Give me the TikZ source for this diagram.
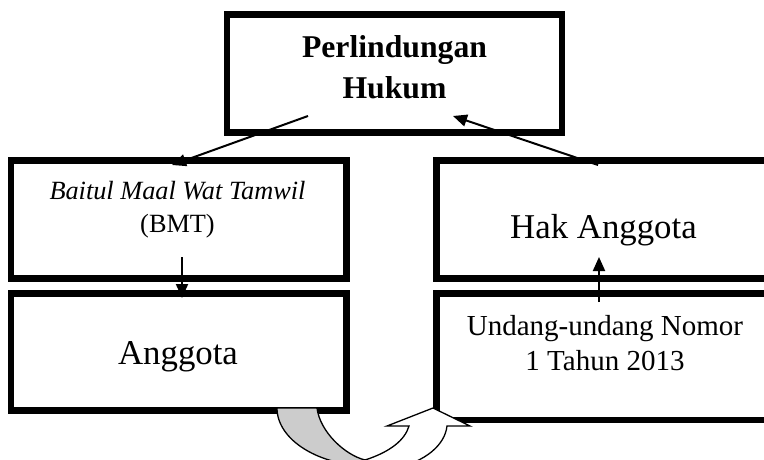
\documentclass[tikz,border=0pt]{standalone}
\usepackage{fontspec}
\setmainfont{Liberation Serif}
\usetikzlibrary{arrows.meta}
\definecolor{bandgrey}{RGB}{204,204,204}
\begin{document}
\begin{tikzpicture}[x=1pt,y=-1pt,
  box/.style={draw,line width=6.5pt,rectangle,inner sep=0pt,outer sep=0pt},
  link/.style={line width=2pt,-{Triangle[length=14pt,width=12pt]}},
  lbl/.style={anchor=base,inner sep=0pt,outer sep=0pt},
  bandline/.style={line width=1.3pt,line join=miter}]
\useasboundingbox (0,0) rectangle (764,460);
\clip (0,0) rectangle (764,460);
% boxes
\node[box,minimum width=335pt,minimum height=118pt] (top) at (394.5,73.5) {};
\node[box,minimum width=335.5pt,minimum height=118pt] (bmt) at (178.75,219.5) {};
\node[box,minimum width=335.5pt,minimum height=117pt] (ang) at (178.75,352) {};
\node[box,minimum width=335.5pt,minimum height=118pt] (hak) at (604.25,219.5) {};
\node[box,minimum width=335.5pt,minimum height=126.5pt] (uu) at (604.25,356.75) {};
% texts
\node[lbl,font=\fontsize{31.7}{38}\selectfont\bfseries] (t1) at (394.5,58) {Perlindungan};
\node[lbl,font=\fontsize{31.7}{38}\selectfont\bfseries] (t2) at (394.5,99) {Hukum};
\node[lbl,font=\fontsize{26.3}{30}\selectfont\itshape] (t3) at (177.5,199) {Baitul Maal Wat Tamwil};
\node[lbl,font=\fontsize{26.3}{30}\selectfont] (t4) at (177.5,232) {(BMT)};
\node[lbl,font=\fontsize{34.8}{40}\selectfont] (t5) at (178,364) {Anggota};
\node[lbl,font=\fontsize{34.8}{40}\selectfont] (t6) at (603.5,238) {Hak Anggota};
\node[lbl,font=\fontsize{29}{34}\selectfont] (t7) at (605,335) {Undang-undang Nomor};
\node[lbl,font=\fontsize{29}{34}\selectfont] (t8) at (605,370) {1 Tahun 2013};
% arrow end points
\coordinate (a1s) at (308,116);
\coordinate (a1e) at (172,165);
\coordinate (a2s) at (598,165);
\coordinate (a2e) at (453,116);
\coordinate (a3s) at (182,257);
\coordinate (a3e) at (182,298);
\coordinate (a4s) at (599,302);
\coordinate (a4e) at (599,257);
\draw[link] (a1s) -- (a1e);
\draw[link] (a2s) -- (a2e);
\draw[link] (a3s) -- (a3e);
\draw[link] (a4s) -- (a4e);
% curved U-turn arrow
\filldraw[bandline,fill=bandgrey] (277,408) -- (317,408)
  .. controls (320,432) and (345,455) .. (365,460) -- (370,466)
  .. controls (319,466) and (277,440) .. cycle;
\filldraw[bandline,fill=white] (365,460)
  .. controls (390,452) and (405,440) .. (409,426) -- (387,426) -- (433,408)
  -- (470,426) -- (447,426)
  .. controls (445,445) and (425,462) .. (395,468) -- (365,468) -- cycle;
\end{tikzpicture}
\end{document}
